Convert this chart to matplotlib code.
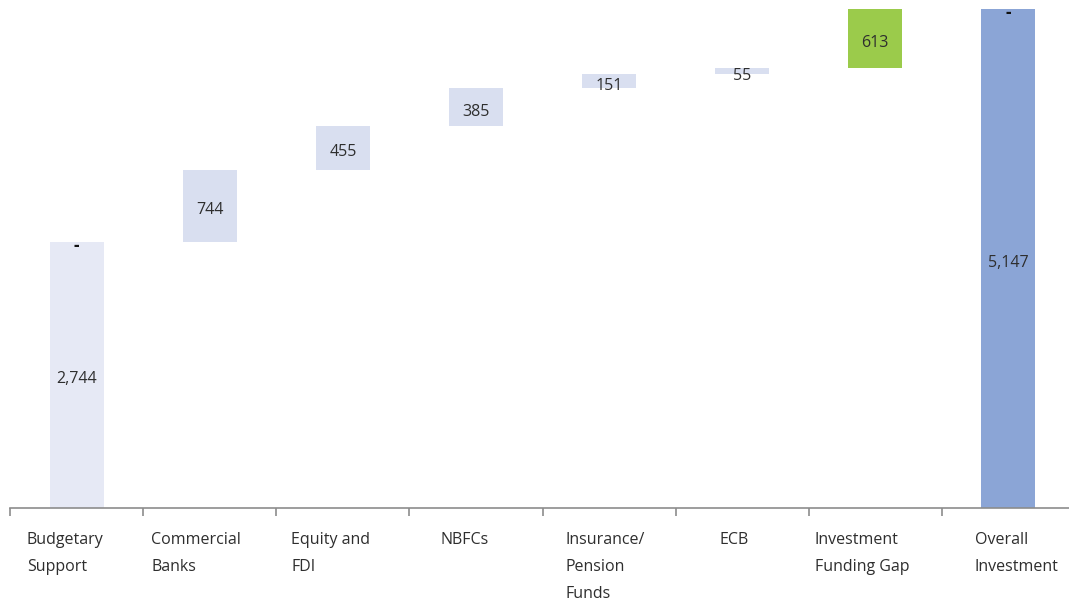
import matplotlib
matplotlib.use("Agg")
import matplotlib.pyplot as plt
from matplotlib.transforms import blended_transform_factory, ScaledTranslation

plt.rcParams['font.family'] = ['Open Sans', 'DejaVu Sans']

categories = ["Budgetary\nSupport", "Commercial\nBanks", "Equity and\nFDI", "NBFCs",
              "Insurance/\nPension\nFunds", "ECB", "Investment\nFunding Gap", "Overall\nInvestment"]
values = [2744, 744, 455, 385, 151, 55, 613, 5147]
kinds = ["total", "step", "step", "step", "step", "step", "gap", "total"]
labels = ["2,744", "744", "455", "385", "151", "55", "613", "5,147"]

# left indent (px) of each category label from its slot boundary
label_indent = [17, 8, 15, 31, 23, 44, 6, 33]

colors = {"step": "#D9DFF0", "gap": "#9BCB4B"}
first_color = "#E6E9F5"
total_color = "#8BA5D6"
text_color = "#2E2E2E"

fig = plt.figure(figsize=(10.69, 6.03), dpi=100)
ax = fig.add_axes([10 / 1069, 95 / 603, 1065 / 1069, 508 / 603])

bottoms, heights, fills = [], [], []
running = 0
for i, (v, k) in enumerate(zip(values, kinds)):
    if k == "total":
        bottoms.append(0)
        heights.append(v)
        fills.append(first_color if i == 0 else total_color)
        running = v
    else:
        bottoms.append(running)
        heights.append(v)
        fills.append(colors[k])
        running += v

x = list(range(len(values)))
ax.bar(x, heights, bottom=bottoms, width=0.405, color=fills, linewidth=0)

for i in x:
    mid = bottoms[i] + heights[i] / 2
    ax.annotate(labels[i], (i, mid), xytext=(0, -3.2), textcoords="offset points",
                ha="center", va="center", fontsize=11.5, color=text_color)
    if kinds[i] == "total":
        ax.annotate("-", (i, bottoms[i] + heights[i]), xytext=(0, -2.8),
                    textcoords="offset points", ha="center", va="center",
                    fontsize=12.5, fontweight="bold", color="#111111")

ax.set_xlim(-0.5, len(values) - 0.5)
ax.set_ylim(0, 5240)
for side in ["top", "right", "left"]:
    ax.spines[side].set_visible(False)
ax.spines["bottom"].set_color("#8C8C8C")
ax.spines["bottom"].set_linewidth(1.2)
ax.set_yticks([])
ax.set_xticks([i - 0.5 for i in range(len(values) + 1)])
ax.set_xticklabels([])
ax.tick_params(axis="x", length=6, width=1.2, color="#8C8C8C", direction="out")

trans = blended_transform_factory(ax.transData, ax.transAxes)
for i, c in enumerate(categories):
    t = trans + ScaledTranslation(label_indent[i] / 100, -24 / 100, fig.dpi_scale_trans)
    ax.text(i - 0.5, 0, c, transform=t, ha="left", va="top", fontsize=11.5,
            color=text_color, linespacing=1.93)

fig.savefig("out.png", dpi=100)
